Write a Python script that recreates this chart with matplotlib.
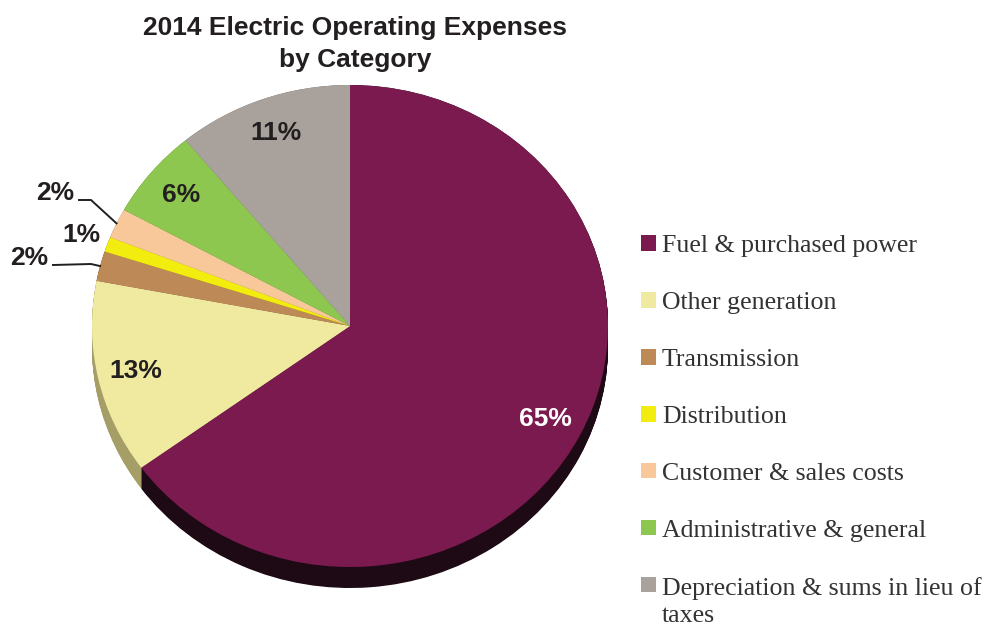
import numpy as np
import matplotlib.pyplot as plt
from matplotlib.patches import Wedge, Patch

categories = ['Fuel & purchased power', 'Other generation', 'Transmission',
              'Distribution', 'Customer & sales costs', 'Administrative & general',
              'Depreciation & sums in lieu of\ntaxes']
shares = [65, 13, 2, 1, 2, 6, 11]
pct_labels = ['65%', '13%', '2%', '1%', '2%', '6%', '11%']

colors = ['#7b1a4f', '#efeaa0', '#bd8a57', '#f2ec0f', '#f9c89a', '#8dc74f', '#a9a29c']
side_colors = ['#1e0a14', '#a59e66', '#6f5030', '#8a8608', '#a08060', '#5a8030', '#6a6560']

W, H = 984, 624
fig = plt.figure(figsize=(W / 100, H / 100), dpi=100)

# pie face: x 92..608, y 85..567, depth ~21 px
depth = 21 / 241
ax = fig.add_axes([92 / W, (H - 588) / H, 516 / W, 503 / H])
ax.set_xlim(-1, 1)
ax.set_ylim(-1 - depth, 1)
ax.set_aspect('auto')
ax.axis('off')

total = float(sum(shares))
angles = [90.0]
for s in shares:
    angles.append(angles[-1] - 360.0 * s / total)

# side of the pie
for off in np.linspace(depth, 0, 30):
    for i in range(len(shares)):
        ax.add_patch(Wedge((0, -off), 1, angles[i + 1], angles[i],
                           facecolor=side_colors[i], edgecolor='none'))
# top face
for i in range(len(shares)):
    ax.add_patch(Wedge((0, 0), 1, angles[i + 1], angles[i],
                       facecolor=colors[i], edgecolor='none'))

lab_font = dict(family='Liberation Sans', weight='bold', fontsize=19)
mids = [(angles[i] + angles[i + 1]) / 2 for i in range(len(shares))]
for i in [0, 1, 5, 6]:
    a = np.radians(mids[i])
    r = 0.85
    ax.text(r * np.cos(a), r * np.sin(a), pct_labels[i], ha='center', va='center',
            color='white' if i == 0 else '#231f20', **lab_font)

# small slices with leader lines
def px(x, y):
    return (x - 350) / 258, (326 - y) / 241

# customer & sales
a = np.radians(mids[4])
tx, ty = px(74, 193)
ax.text(tx, ty, pct_labels[4], ha='right', va='center', color='#231f20', **lab_font)
x1, y1 = px(79, 200)
x2, y2 = px(91, 200)
ax.plot([x1, x2, np.cos(a)], [y1, y2, np.sin(a)], color='#231f20', lw=1.4, clip_on=False)

# distribution
tx, ty = px(81, 235)
ax.text(tx, ty, pct_labels[3], ha='center', va='center', color='#231f20', **lab_font)

# transmission
a = np.radians(mids[2])
tx, ty = px(48, 258)
ax.text(tx, ty, pct_labels[2], ha='right', va='center', color='#231f20', **lab_font)
x1, y1 = px(53, 265)
x2, y2 = px(91, 264)
ax.plot([x1, x2, np.cos(a)], [y1, y2, np.sin(a)], color='#231f20', lw=1.4, clip_on=False)

fig.text(355 / W, 1 - 44 / H, '2014 Electric Operating Expenses\nby Category',
         ha='center', va='center', family='Liberation Sans', weight='bold',
         fontsize=19, color='#231f20', linespacing=1.4)

handles = [Patch(facecolor=c, edgecolor='none') for c in colors]
leg = fig.legend(handles, categories, loc='upper left',
                 bbox_to_anchor=(631 / W, 1 - 225 / H), frameon=False,
                 prop={'family': 'Liberation Serif', 'size': 18.6},
                 handlelength=0.55, handleheight=0.55, handletextpad=0.25,
                 labelspacing=1.35, borderaxespad=0)
for t in leg.get_texts():
    t.set_color('#333333')
    t.set_linespacing(1.3)

# square of the wrapped entry sits at its first line
rows = leg._legend_handle_box.get_children()[0].get_children()
rows[-1].align = 'top'

fig.savefig('out.png', dpi=100)
